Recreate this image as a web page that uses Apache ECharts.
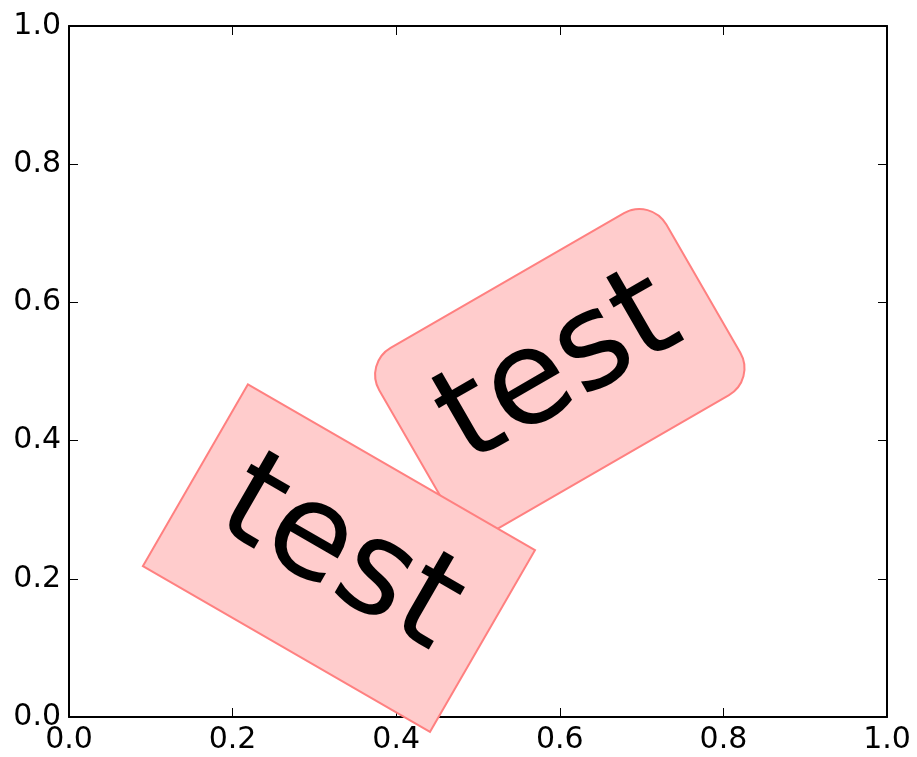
<!DOCTYPE html>
<html>
<head>
<meta charset="utf-8">
<script src="https://cdn.jsdelivr.net/npm/echarts@6/dist/echarts.min.js"></script>
<style>
  html, body { margin: 0; padding: 0; background: #fff; }
  #main { width: 917px; height: 757px; }
</style>
</head>
<body>
<div id="main"></div>
<script>
// tick values on both axes
var ticks = [0.0, 0.2, 0.4, 0.6, 0.8, 1.0];

// the two text boxes: round one first, square one drawn over it
var boxTexts = ['test', 'test'];
var boxX = [0.60, 0.33];
var boxY = [0.50, 0.23];
var boxAngles = [30, -30];
var boxShapes = ['round', 'square'];

var chart = echarts.init(document.getElementById('main'));

var font = 'DejaVu Sans';

function valueAxis(pos, showLabel) {
  return {
    type: 'value',
    position: pos,
    min: ticks[0],
    max: ticks[ticks.length - 1],
    interval: 0.2,
    splitLine: { show: false },
    axisLine: { show: true, onZero: false, lineStyle: { color: '#000', width: 2 } },
    axisTick: { show: true, inside: true, length: 9, lineStyle: { color: '#000', width: 1 } },
    axisLabel: {
      show: showLabel,
      color: '#000',
      fontFamily: font,
      fontSize: 30,
      margin: 8,
      formatter: function (v) { return v.toFixed(1); }
    }
  };
}

var series = boxTexts.map(function (t, i) {
  var round = boxShapes[i] === 'round';
  return {
    type: 'scatter',
    z: 2 + i,
    symbolSize: 0,
    silent: true,
    itemStyle: { opacity: 1 },
    data: [[boxX[i], boxY[i]]],
    label: {
      show: true,
      position: 'inside',
      formatter: t,
      rotate: boxAngles[i],
      color: '#000',
      opacity: 1,
      fontFamily: font,
      fontSize: 132,
      padding: [38, 38, 38, 38],
      backgroundColor: '#ffcccc',
      borderColor: '#ff8080',
      borderWidth: 2,
      borderRadius: round ? 30 : 0
    }
  };
});

var option = {
  animation: false,
  backgroundColor: '#fff',
  grid: { left: 69, right: 30, top: 26, bottom: 40, containLabel: false },
  xAxis: [valueAxis('bottom', true), valueAxis('top', false)],
  yAxis: [valueAxis('left', true), valueAxis('right', false)],
  series: series
};

chart.setOption(option);
</script>
</body>
</html>
